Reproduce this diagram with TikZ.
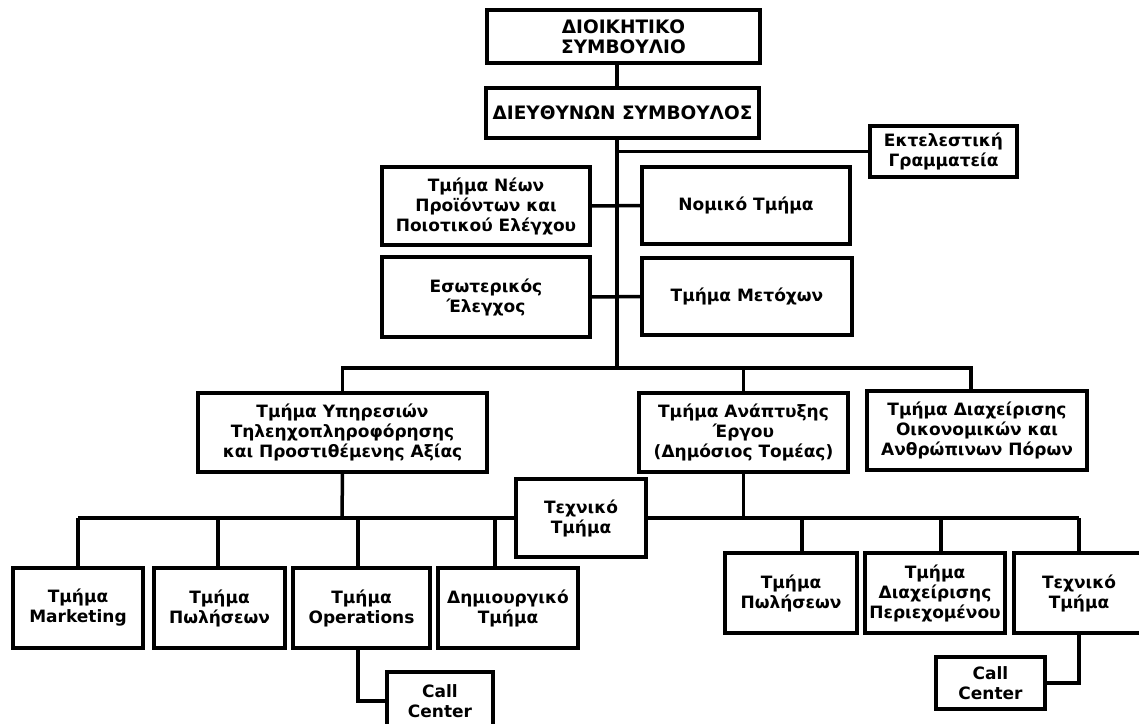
\documentclass[tikz,border=0pt]{standalone}
\usepackage{fontspec}
\setmainfont{DejaVu Sans}
\begin{document}
\begin{tikzpicture}[x=1pt,y=-1pt,
  box/.style={draw=black, line width=4pt, fill=white, inner sep=0pt, outer sep=0pt,
    align=center, font=\bfseries\fontsize{17}{20}\selectfont},
  capsbox/.style={box, font=\bfseries\fontsize{18.5}{20}\selectfont},
  link/.style={draw=black, line width=3.5pt}]
\useasboundingbox[fill=white] (0,0) rectangle (1139,723);

% nodes
\node[capsbox, minimum width=273pt, minimum height=53pt] (board) at (623.5,36.5) {ΔΙΟΙΚΗΤΙΚΟ\\ΣΥΜΒΟΥΛΙΟ};
\node[capsbox, minimum width=273pt, minimum height=50pt] (ceo) at (622.5,113) {ΔΙΕΥΘΥΝΩΝ ΣΥΜΒΟΥΛΟΣ};
\node[box, minimum width=147pt, minimum height=51pt] (exec) at (943.5,151.5) {Εκτελεστική\\Γραμματεία};
\node[box, minimum width=208pt, minimum height=78pt] (newprod) at (486,206) {Τμήμα Νέων\\Προϊόντων και\\Ποιοτικού Ελέγχου};
\node[box, minimum width=208pt, minimum height=77pt] (legal) at (746,205.5) {Νομικό Τμήμα};
\node[box, minimum width=208pt, minimum height=80pt] (audit) at (486,297) {Εσωτερικός\\Έλεγχος};
\node[box, minimum width=210pt, minimum height=77pt] (shares) at (747,296.5) {Τμήμα Μετόχων};

\node[box, minimum width=289pt, minimum height=79pt] (services) at (342.5,432.5) {Τμήμα Υπηρεσιών\\Τηλεηχοπληροφόρησης\\και Προστιθέμενης Αξίας};
\node[box, minimum width=209pt, minimum height=79pt] (project) at (743.5,432.5) {Τμήμα Ανάπτυξης\\Έργου\\(Δημόσιος Τομέας)};
\node[box, minimum width=220pt, minimum height=79pt] (finance) at (977,430.5) {Τμήμα Διαχείρισης\\Οικονομικών και\\Ανθρώπινων Πόρων};

\node[box, minimum width=130pt, minimum height=78pt] (tech1) at (581,518) {Τεχνικό\\Τμήμα};

\node[box, minimum width=130pt, minimum height=80pt] (marketing) at (78,608) {Τμήμα\\Marketing};
\node[box, minimum width=131pt, minimum height=80pt] (sales1) at (219.5,608) {Τμήμα\\Πωλήσεων};
\node[box, minimum width=137pt, minimum height=80pt] (ops) at (361.5,608) {Τμήμα\\Operations};
\node[box, minimum width=140pt, minimum height=80pt] (creative) at (508,608) {Δημιουργικό\\Τμήμα};
\node[box, minimum width=106pt, minimum height=58pt] (cc1) at (440,701) {Call\\Center};

\node[box, minimum width=132pt, minimum height=80pt] (sales2) at (791,593) {Τμήμα\\Πωλήσεων};
\node[box, minimum width=140pt, minimum height=80pt] (content) at (935,593) {Τμήμα\\Διαχείρισης\\Περιεχομένου};
\node[box, minimum width=130pt, minimum height=80pt] (tech2) at (1079,593) {Τεχνικό\\Τμήμα};
\node[box, minimum width=109pt, minimum height=52pt] (cc2) at (990.5,683) {Call\\Center};

% junction coordinates
\coordinate (trunk) at (617,368);
\coordinate (fj) at (971,368);
\coordinate (hb) at (342,518);

% connectors
\draw[link] (board.south -| trunk) -- (ceo.north -| trunk);
\draw[link] (ceo.south -| trunk) -- (trunk);
\draw[link] (exec.west -| trunk) -- (exec.west);
\draw[link] (newprod.east) -- (legal.west);
\draw[link] (audit.east) -- (shares.west);
\draw[link] (services.north) |- (fj) -- (fj |- finance.north);
\draw[link] (project.north) -- (project.north |- fj);

\draw[link] (services.south) -- (hb);
\draw[link] (marketing.north |- hb) -- (tech1.west);
\draw[link] (tech1.east) -- (tech2.north |- hb);
\draw[link] (project.south) -- (project.south |- hb);
\draw[link] (marketing.north) -- (marketing.north |- hb);
\draw[link] ([xshift=-1.5pt]sales1.north) -- ([xshift=-1.5pt]sales1.north |- hb);
\draw[link] ([xshift=-3.5pt]ops.north) -- ([xshift=-3.5pt]ops.north |- hb);
\draw[link] ([xshift=-13pt]creative.north) -- ([xshift=-13pt]creative.north |- hb);
\draw[link] ([xshift=11pt]sales2.north) -- ([xshift=11pt]sales2.north |- hb);
\draw[link] ([xshift=6pt]content.north) -- ([xshift=6pt]content.north |- hb);
\draw[link] (tech2.north) -- (tech2.north |- hb);

\draw[link] ([xshift=-3.5pt]ops.south) |- (cc1.west);
\draw[link] (tech2.south) |- (cc2.east);
\end{tikzpicture}
\end{document}
